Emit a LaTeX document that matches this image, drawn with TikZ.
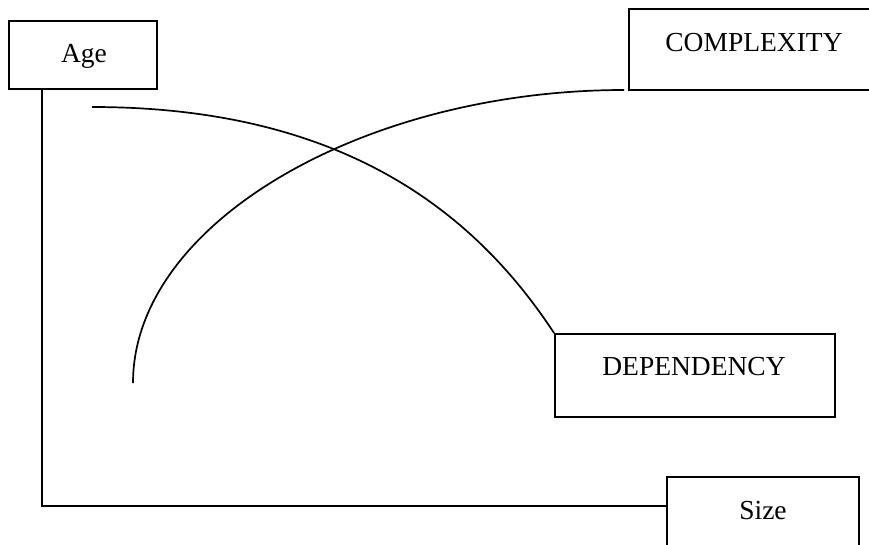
\documentclass[tikz,border=0pt]{standalone}
\usepackage{fontspec}
\setmainfont{Liberation Serif}
\begin{document}
\begin{tikzpicture}[x=1pt,y=-1pt,
  box/.style={draw, line width=1.9pt, rectangle, inner sep=0pt},
  lbl/.style={font=\fontsize{27.5}{33}\selectfont, inner sep=0pt, anchor=base},
  conn/.style={line width=1.7pt}]
\useasboundingbox (0,0) rectangle (869,544);
% boxes
\node[box, minimum width=148pt, minimum height=68pt] (age) at (83,55) {};
\node[box, minimum width=243pt, minimum height=81pt] (cplx) at (750.5,49.5) {};
\node[box, minimum width=280pt, minimum height=83pt] (dep) at (695,375.5) {};
\node[box, minimum width=192pt, minimum height=75pt] (size) at (763,514.5) {};
% labels
\node[lbl] (agetxt) at (84,62) {Age};
\node[lbl] (cplxtxt) at (754,51) {COMPLEXITY};
\node[lbl] (deptxt) at (694,375) {DEPENDENCY};
\node[lbl] (sizetxt) at (763,519) {Size};
% connector coordinates
\coordinate (c1s) at (92,107);
\coordinate (c2s) at (133,383);
\coordinate (c2e) at (624,90);
\coordinate (bend) at (42,506);
% Age to Size
\draw[conn] (age.south -| bend) -- (bend) -- (size.west |- bend);
% curve to DEPENDENCY
\draw[conn] (c1s) .. controls (338,107) and (472,208) .. (dep.north west);
% curve to COMPLEXITY
\draw[conn] (c2s) .. controls (133,223) and (364,90) .. (c2e);
\end{tikzpicture}
\end{document}
